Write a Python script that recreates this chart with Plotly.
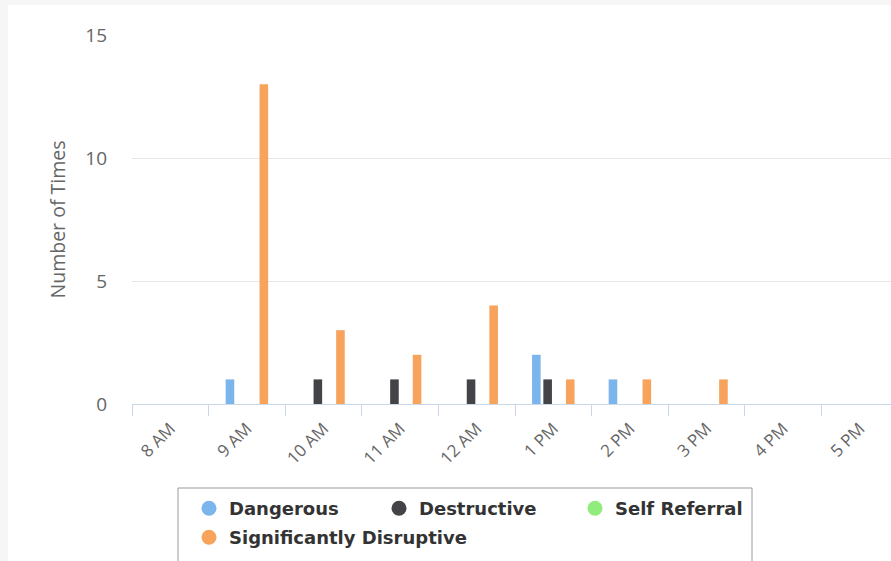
import plotly.graph_objects as go

categories = ['8 AM', '9 AM', '10 AM', '11 AM', '12 AM', '1 PM', '2 PM', '3 PM', '4 PM', '5 PM']
dangerous = [0, 1, 0, 0, 0, 2, 1, 0, 0, 0]
destructive = [0, 0, 1, 1, 1, 1, 0, 0, 0, 0]
self_referral = [0, 0, 0, 0, 0, 0, 0, 0, 0, 0]
significantly_disruptive = [0, 13, 3, 2, 4, 1, 1, 1, 0, 0]

series_names = ['Dangerous', 'Destructive', 'Self Referral', 'Significantly Disruptive']
series_values = [dangerous, destructive, self_referral, significantly_disruptive]
colors = ['#7cb5ec', '#434348', '#90ed7d', '#f7a35c']

W, H = 891, 561
ML, MR, MT, MB = 132, 0, 35, 157
PW, PH = W - ML - MR, H - MT - MB
CAT_W = 76.6


def px_x(px):
    return (px - ML) / PW


def px_y(py):
    return (H - MB - py) / PH


fig = go.Figure()
for name, vals, col in zip(series_names, series_values, colors):
    fig.add_trace(go.Bar(x=categories, y=vals, name=name, marker=dict(color=col, line=dict(width=0)),
                         showlegend=False))

legend_widths = [145, 151, 130, 280]
legend_ids = ['legend', 'legend', 'legend', 'legend2']
for name, col, lw, lid in zip(series_names, colors, legend_widths, legend_ids):
    fig.add_trace(go.Scatter(x=[None], y=[None], mode='markers', name=name,
                             marker=dict(color=col, size=15, symbol='circle'),
                             legendwidth=lw, legend=lid, showlegend=True))

legend_font = dict(family='DejaVu Sans', size=18, color='#333333', weight='bold')
fig.update_layout(
    width=W, height=H,
    margin=dict(l=ML, r=MR, t=MT, b=MB, autoexpand=False),
    paper_bgcolor='#f6f6f6',
    plot_bgcolor='white',
    barmode='group',
    bargap=0.41,
    bargroupgap=0.24,
    font=dict(family='Open Sans', color='#666666'),
    legend=dict(orientation='h', xref='container', yref='container', x=189 / W, y=1 - 490 / H,
                xanchor='left', yanchor='top', bgcolor='rgba(0,0,0,0)', borderwidth=0,
                font=legend_font, itemsizing='trace'),
    legend2=dict(orientation='h', xref='container', yref='container', x=189 / W, y=1 - 519 / H,
                 xanchor='left', yanchor='top', bgcolor='rgba(0,0,0,0)', borderwidth=0,
                 font=legend_font, itemsizing='trace'),
    xaxis=dict(
        type='category', range=[-0.5, -0.5 + PW / CAT_W], tickson='boundaries',
        ticks='outside', ticklen=11, tickcolor='#ccd6eb', tickwidth=1,
        showline=True, linecolor='#ccd6eb', linewidth=1,
        showgrid=False, tickangle=-45, ticklabelstandoff=7,
        tickfont=dict(family='Open Sans', size=17, color='#666666'),
        fixedrange=True,
    ),
    yaxis=dict(
        range=[0, 15], dtick=5, tick0=0, showgrid=True, gridcolor='#e6e6e6', gridwidth=1,
        zeroline=False, showline=False, ticks='', ticklabelstandoff=24,
        tickfont=dict(family='Open Sans', size=19, color='#666666'),
        title=dict(text='Number of Times', standoff=14,
                   font=dict(family='Open Sans', size=19.5, color='#666666')),
        fixedrange=True,
    ),
    shapes=[
        dict(type='rect', xref='paper', yref='paper', x0=px_x(8), x1=px_x(W + 5), y0=px_y(H + 5), y1=px_y(5),
             fillcolor='white', line=dict(width=0), layer='below'),
        dict(type='rect', xref='paper', yref='paper', x0=px_x(178), x1=px_x(752), y0=px_y(H + 5), y1=px_y(488),
             fillcolor='white', line=dict(color='#9a9a9a', width=1), layer='below'),
    ],
)

fig.write_html('out.html')
